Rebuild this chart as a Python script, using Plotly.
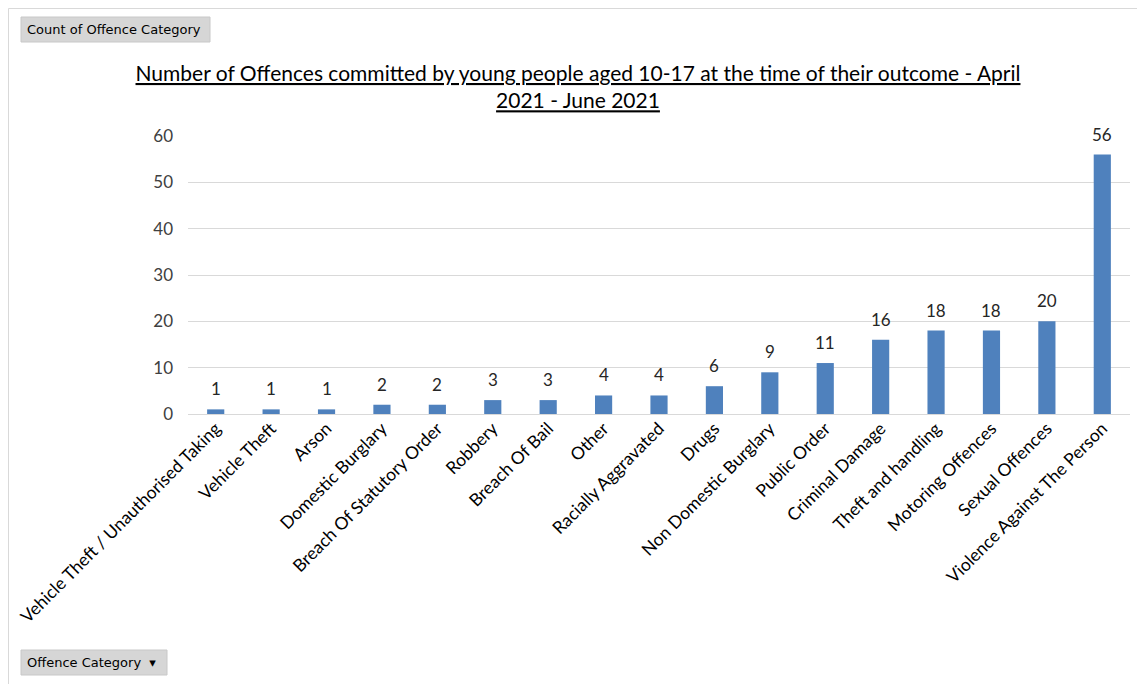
import plotly.graph_objects as go

categories = ["Vehicle Theft / Unauthorised Taking", "Vehicle Theft", "Arson",
              "Domestic Burglary", "Breach Of Statutory Order", "Robbery",
              "Breach Of Bail", "Other", "Racially Aggravated", "Drugs",
              "Non Domestic Burglary", "Public Order", "Criminal Damage",
              "Theft and handling", "Motoring Offences", "Sexual Offences",
              "Violence Against The Person"]
counts = [1, 1, 1, 2, 2, 3, 3, 4, 4, 6, 9, 11, 16, 18, 18, 20, 56]
y_ticks = [0, 10, 20, 30, 40, 50, 60]

# page has an 8px body margin; work in screen pixel coordinates and offset
OFF = 8
W, H = 1145 - OFF, 684 - OFF
L, R, T, B = 188 - OFF, 15, 136 - OFF, 270
PW, PH = W - L - R, H - T - B

def px(x):
    return (x - OFF - L) / PW

def py(y):
    return (H - B - (y - OFF)) / PH

FONT = "Lato, Carlito, Calibri, sans-serif"

fig = go.Figure(go.Bar(
    x=categories, y=counts,
    marker=dict(color="#4f81bd", line=dict(width=0)),
    cliponaxis=False,
))

shapes = [
    dict(type="rect", xref="paper", yref="paper", x0=px(8.5), x1=px(1141), y0=py(8.5), y1=py(700),
         line=dict(color="#d9d9d9", width=1), fillcolor="rgba(0,0,0,0)", layer="below"),
    dict(type="rect", xref="paper", yref="paper", x0=px(21), x1=px(210), y0=py(17), y1=py(42),
         line=dict(color="#c8c8c8", width=1), fillcolor="#d6d6d6"),
    dict(type="rect", xref="paper", yref="paper", x0=px(21), x1=px(167), y0=py(650), y1=py(675),
         line=dict(color="#c8c8c8", width=1), fillcolor="#d6d6d6"),
]

annotations = [
    dict(text="Count of Offence Category", xref="paper", yref="paper", x=px(25), y=py(30),
         xanchor="left", yanchor="middle", showarrow=False,
         font=dict(family="DejaVu Sans, Tahoma, sans-serif", size=13, color="#000000")),
    dict(text="Offence Category  \u25BE", xref="paper", yref="paper", x=px(25), y=py(662),
         xanchor="left", yanchor="middle", showarrow=False,
         font=dict(family="DejaVu Sans, Tahoma, sans-serif", size=13, color="#000000")),
]
for cat, val in zip(categories, counts):
    annotations.append(dict(
        text=str(val), x=cat, y=val, xref="x", yref="y",
        xanchor="center", yanchor="bottom", yshift=8, showarrow=False,
        font=dict(family=FONT, size=17, color="#262626"),
    ))

fig.update_layout(
    width=W, height=H,
    margin=dict(l=L, r=R, t=T, b=B, pad=0, autoexpand=False),
    paper_bgcolor="white", plot_bgcolor="white",
    title=dict(
        text="<u>Number of Offences committed by young people aged 10-17 at the time of their outcome - April</u><br><u>2021 - June 2021</u>",
        xref="container", x=(578 - OFF) / W, xanchor="center",
        yref="container", y=1 - (81 - OFF) / H, yanchor="middle",
        font=dict(family=FONT, size=21, color="#000000"),
    ),
    bargap=0.69,
    showlegend=False,
    xaxis=dict(
        tickangle=-45, showgrid=False, showline=False, ticks="", automargin=False,
        tickfont=dict(family=FONT, size=17.5, color="#000000"),
    ),
    yaxis=dict(
        range=[0, 60], tickvals=y_ticks, showgrid=True, gridcolor="#d9d9d9", gridwidth=1,
        zeroline=True, zerolinecolor="#d9d9d9", zerolinewidth=1, showline=False, ticks="",
        ticklabelstandoff=14, automargin=False,
        tickfont=dict(family=FONT, size=17, color="#404040"),
    ),
    shapes=shapes, annotations=annotations,
)

fig.write_html("out.html")
